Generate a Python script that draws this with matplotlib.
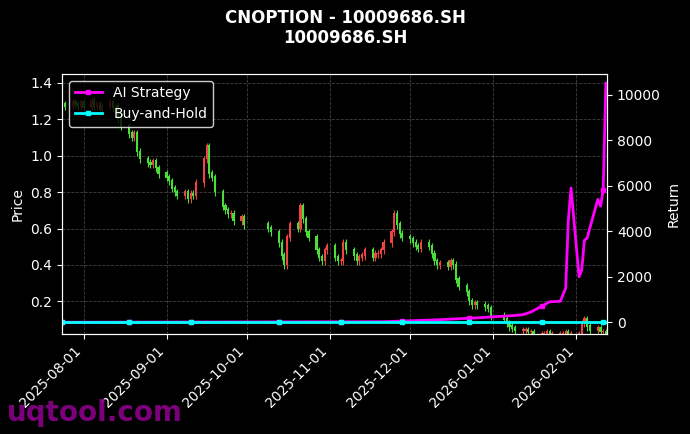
import numpy as np
import pandas as pd
import matplotlib
matplotlib.use("Agg")
import matplotlib.pyplot as plt
import matplotlib.dates as mdates

# trading days and closes (gaps for holidays)
days = pd.bdate_range("2025-07-24", "2026-02-12")
holidays = pd.to_datetime(["2025-10-01", "2025-10-02", "2025-10-03", "2025-10-06",
                           "2025-10-07", "2025-10-08", "2026-01-01", "2026-01-02"])
days = days[~days.isin(holidays)]

closes = [
    1.28, 1.27, 1.29,
    1.28, 1.27, 1.29, 1.26, 1.30, 1.27, 1.28, 1.25,
    1.27, 1.29, 1.26, 1.27, 1.20, 1.16, 1.12, 1.10,
    1.12, 1.02, 0.98, 0.96, 0.95, 0.97, 0.93, 0.90, 0.88,
    0.86, 0.82, 0.80, 0.78, 0.80, 0.76, 0.79, 0.78,
    0.85, 0.98, 1.05, 0.90, 0.88, 0.80, 0.72, 0.70, 0.68,
    0.68, 0.64, 0.66, 0.62, 0.60, 0.58, 0.52,
    0.45, 0.40,
    0.55, 0.62, 0.60, 0.72, 0.65,
    0.58, 0.55, 0.48, 0.44, 0.42,
    0.48, 0.50, 0.44, 0.42, 0.42,
    0.52, 0.48, 0.45, 0.42, 0.44,
    0.45, 0.48, 0.44, 0.46, 0.46,
    0.48, 0.52, 0.58, 0.68, 0.62,
    0.57, 0.55, 0.54, 0.52, 0.50,
    0.49, 0.52, 0.50, 0.46, 0.42,
    0.40, 0.41, 0.39, 0.42, 0.40,
    0.32, 0.28, 0.25, 0.20, 0.18,
    0.19, 0.18, 0.17, 0.16, 0.12,
    0.10, 0.08, 0.06, 0.05, 0.04,
    0.04, 0.04, 0.03, 0.03, 0.02,
    0.02, 0.02, 0.03, 0.02, 0.02,
    0.02, 0.02, 0.03, 0.02, 0.02,
    0.02, 0.08, 0.10, 0.06, 0.04,
    0.05, 0.03, 0.03, 0.02,
]
strategy_dates = pd.to_datetime([
    "2025-07-24", "2025-11-20", "2025-12-10", "2025-12-24", "2026-01-07",
    "2026-01-12", "2026-01-15", "2026-01-19", "2026-01-22", "2026-01-26",
    "2026-01-28", "2026-01-29", "2026-01-30", "2026-02-02", "2026-02-03",
    "2026-02-04", "2026-02-05", "2026-02-09", "2026-02-10", "2026-02-11",
    "2026-02-12",
])
strategy_vals = [
    0, 20, 100, 180, 280,
    330, 450, 700, 900, 920,
    1500, 4500, 5900, 2000, 2300,
    3600, 3700, 5400, 5100, 5800,
    10500,
]

n = min(len(days), len(closes))
days = days[-n:]
closes = np.array(closes[-n:])
opens = np.r_[closes[0], closes[:-1]]
strategy = (pd.Series(strategy_vals, index=strategy_dates)
            .reindex(days.union(strategy_dates)).interpolate(method="time")
            .reindex(days).fillna(0).values)

fig, ax = plt.subplots(figsize=(6.9, 4.34), dpi=100)
fig.patch.set_facecolor("black")
ax.set_facecolor("black")

up = closes >= opens
cols = np.where(up, "#ef4444", "#4ade3a")
ax.vlines(days, np.minimum(opens, closes) - 0.02, np.maximum(opens, closes) + 0.02,
          colors=cols, linewidth=0.8)
ax.bar(days, np.abs(closes - opens) + 0.008, bottom=np.minimum(opens, closes),
       width=0.8, color=cols)

ax.set_ylim(0.02, 1.45)
ax.set_xlim(pd.Timestamp("2025-07-24"), pd.Timestamp("2026-02-12 12:00"))
ax.set_ylabel("Price", color="white")
ax.grid(True, linestyle="--", color="gray", alpha=0.5, linewidth=0.6)
ax.xaxis.set_major_locator(mdates.MonthLocator())
ax.xaxis.set_major_formatter(mdates.DateFormatter("%Y-%m-%d"))
plt.setp(ax.get_xticklabels(), rotation=45, ha="right")
ax.tick_params(colors="white")
for s in ax.spines.values():
    s.set_color("white")

ax2 = ax.twinx()
ax2.plot(days, strategy, color="#ff00ff", linewidth=2, marker="s", markersize=3,
         markevery=17, label="AI Strategy")
ax2.plot(days, np.zeros(n), color="#00ffff", linewidth=2, marker="s", markersize=3,
         markevery=17, label="Buy-and-Hold")
ax2.set_ylim(-524, 10917)
ax2.set_ylabel("Return", color="white")
ax2.tick_params(colors="white")
for s in ax2.spines.values():
    s.set_color("white")
ax2.legend(loc="upper left", facecolor="black", edgecolor="white", labelcolor="white")

fig.suptitle("CNOPTION - 10009686.SH\n10009686.SH", color="white", fontweight="bold")
fig.text(0.01, 0.03, "uqtool.com", color="#8b008b", fontsize=20, fontweight="bold", alpha=0.9)

fig.subplots_adjust(left=0.09, right=0.88, top=0.83, bottom=0.23)
fig.savefig("out.png", dpi=100, facecolor="black")
